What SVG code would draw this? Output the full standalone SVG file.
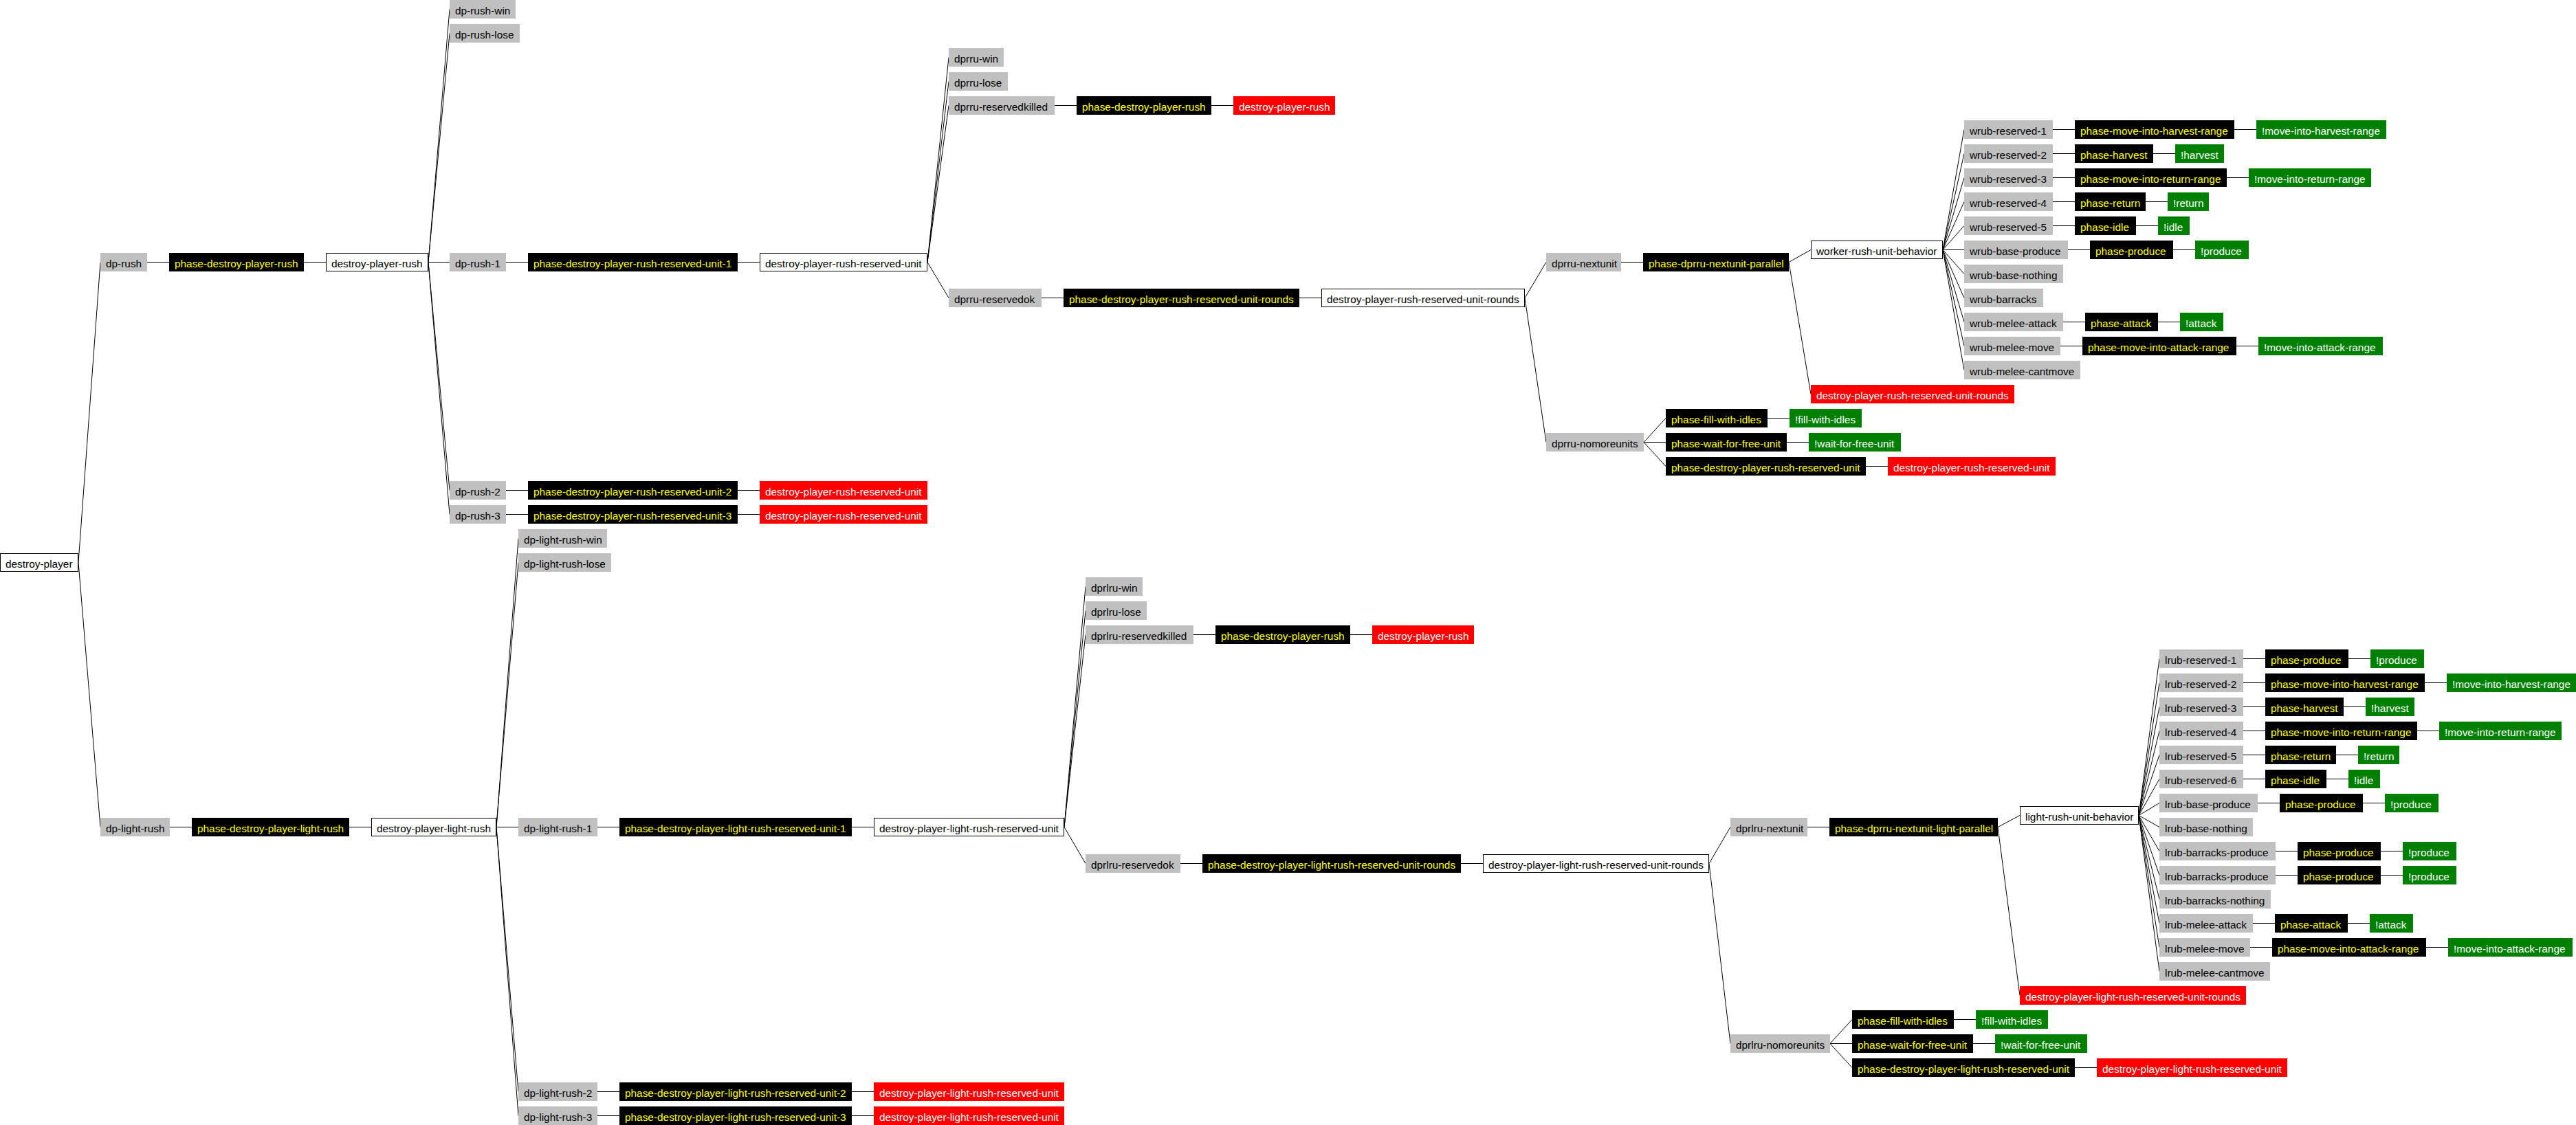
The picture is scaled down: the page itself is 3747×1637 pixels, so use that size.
<svg xmlns="http://www.w3.org/2000/svg" width="3747" height="1637" viewBox="0 0 3747 1637">
<style>
text{font-family:"Liberation Sans",Arial,Helvetica,sans-serif;font-size:15.4px}
.g rect{fill:#c0c0c0}.g text{fill:#000}
.k rect{fill:#000}.k text{fill:#ff0}
.r rect{fill:#f00}.r text{fill:#fff}
.n rect{fill:#008000}.n text{fill:#fff}
.w rect{fill:#fff;stroke:#000;stroke-width:1}.w text{fill:#000}
#edges line{stroke:#000;stroke-width:1;fill:none}
</style>
<rect width="3747" height="1637" fill="#fff"/>
<g id="edges">
<line x1="114" y1="818.5" x2="146" y2="381.5"/>
<line x1="114" y1="818.5" x2="146" y2="1203.5"/>
<line x1="214" y1="381.5" x2="246" y2="381.5"/>
<line x1="442" y1="381.5" x2="474" y2="381.5"/>
<line x1="623" y1="381.5" x2="654" y2="13.5"/>
<line x1="623" y1="381.5" x2="654" y2="48.5"/>
<line x1="623" y1="381.5" x2="654" y2="381.5"/>
<line x1="623" y1="381.5" x2="654" y2="713.5"/>
<line x1="623" y1="381.5" x2="654" y2="748.5"/>
<line x1="736" y1="381.5" x2="768" y2="381.5"/>
<line x1="1073" y1="381.5" x2="1105" y2="381.5"/>
<line x1="736" y1="713.5" x2="768" y2="713.5"/>
<line x1="1073" y1="713.5" x2="1105" y2="713.5"/>
<line x1="736" y1="748.5" x2="768" y2="748.5"/>
<line x1="1073" y1="748.5" x2="1105" y2="748.5"/>
<line x1="1349" y1="381.5" x2="1380" y2="83.5"/>
<line x1="1349" y1="381.5" x2="1380" y2="118.5"/>
<line x1="1349" y1="381.5" x2="1380" y2="153.5"/>
<line x1="1349" y1="381.5" x2="1380" y2="433.5"/>
<line x1="1534" y1="153.5" x2="1566" y2="153.5"/>
<line x1="1762" y1="153.5" x2="1794" y2="153.5"/>
<line x1="1515" y1="433.5" x2="1547" y2="433.5"/>
<line x1="1890" y1="433.5" x2="1922" y2="433.5"/>
<line x1="2218" y1="433.5" x2="2249" y2="381.5"/>
<line x1="2218" y1="433.5" x2="2249" y2="643.5"/>
<line x1="2358" y1="381.5" x2="2390" y2="381.5"/>
<line x1="2602" y1="381.5" x2="2634" y2="363.5"/>
<line x1="2602" y1="381.5" x2="2634" y2="573.5"/>
<line x1="2391" y1="643.5" x2="2423" y2="608.5"/>
<line x1="2391" y1="643.5" x2="2423" y2="643.5"/>
<line x1="2391" y1="643.5" x2="2423" y2="678.5"/>
<line x1="2571" y1="608.5" x2="2603" y2="608.5"/>
<line x1="2599" y1="643.5" x2="2631" y2="643.5"/>
<line x1="2714" y1="678.5" x2="2746" y2="678.5"/>
<line x1="2826" y1="363.5" x2="2857" y2="188.5"/>
<line x1="2826" y1="363.5" x2="2857" y2="223.5"/>
<line x1="2826" y1="363.5" x2="2857" y2="258.5"/>
<line x1="2826" y1="363.5" x2="2857" y2="293.5"/>
<line x1="2826" y1="363.5" x2="2857" y2="328.5"/>
<line x1="2826" y1="363.5" x2="2857" y2="363.5"/>
<line x1="2826" y1="363.5" x2="2857" y2="398.5"/>
<line x1="2826" y1="363.5" x2="2857" y2="433.5"/>
<line x1="2826" y1="363.5" x2="2857" y2="468.5"/>
<line x1="2826" y1="363.5" x2="2857" y2="503.5"/>
<line x1="2826" y1="363.5" x2="2857" y2="538.5"/>
<line x1="2986" y1="188.5" x2="3018" y2="188.5"/>
<line x1="3250" y1="188.5" x2="3282" y2="188.5"/>
<line x1="2986" y1="223.5" x2="3018" y2="223.5"/>
<line x1="3132" y1="223.5" x2="3164" y2="223.5"/>
<line x1="2986" y1="258.5" x2="3018" y2="258.5"/>
<line x1="3239" y1="258.5" x2="3271" y2="258.5"/>
<line x1="2986" y1="293.5" x2="3018" y2="293.5"/>
<line x1="3121" y1="293.5" x2="3153" y2="293.5"/>
<line x1="2986" y1="328.5" x2="3018" y2="328.5"/>
<line x1="3107" y1="328.5" x2="3139" y2="328.5"/>
<line x1="3008" y1="363.5" x2="3040" y2="363.5"/>
<line x1="3161" y1="363.5" x2="3193" y2="363.5"/>
<line x1="3001" y1="468.5" x2="3033" y2="468.5"/>
<line x1="3139" y1="468.5" x2="3171" y2="468.5"/>
<line x1="2997" y1="503.5" x2="3029" y2="503.5"/>
<line x1="3253" y1="503.5" x2="3285" y2="503.5"/>
<line x1="247" y1="1203.5" x2="279" y2="1203.5"/>
<line x1="508" y1="1203.5" x2="540" y2="1203.5"/>
<line x1="722" y1="1203.5" x2="754" y2="783.5"/>
<line x1="722" y1="1203.5" x2="754" y2="818.5"/>
<line x1="722" y1="1203.5" x2="754" y2="1203.5"/>
<line x1="722" y1="1203.5" x2="754" y2="1588.5"/>
<line x1="722" y1="1203.5" x2="754" y2="1623.5"/>
<line x1="869" y1="1203.5" x2="901" y2="1203.5"/>
<line x1="1239" y1="1203.5" x2="1271" y2="1203.5"/>
<line x1="869" y1="1588.5" x2="901" y2="1588.5"/>
<line x1="1239" y1="1588.5" x2="1271" y2="1588.5"/>
<line x1="869" y1="1623.5" x2="901" y2="1623.5"/>
<line x1="1239" y1="1623.5" x2="1271" y2="1623.5"/>
<line x1="1548" y1="1203.5" x2="1579" y2="853.5"/>
<line x1="1548" y1="1203.5" x2="1579" y2="888.5"/>
<line x1="1548" y1="1203.5" x2="1579" y2="923.5"/>
<line x1="1548" y1="1203.5" x2="1579" y2="1256.5"/>
<line x1="1736" y1="923.5" x2="1768" y2="923.5"/>
<line x1="1964" y1="923.5" x2="1996" y2="923.5"/>
<line x1="1717" y1="1256.5" x2="1749" y2="1256.5"/>
<line x1="2125" y1="1256.5" x2="2157" y2="1256.5"/>
<line x1="2486" y1="1256.5" x2="2517" y2="1203.5"/>
<line x1="2486" y1="1256.5" x2="2517" y2="1518.5"/>
<line x1="2629" y1="1203.5" x2="2661" y2="1203.5"/>
<line x1="2906" y1="1203.5" x2="2938" y2="1186.5"/>
<line x1="2906" y1="1203.5" x2="2938" y2="1448.5"/>
<line x1="2662" y1="1518.5" x2="2694" y2="1483.5"/>
<line x1="2662" y1="1518.5" x2="2694" y2="1518.5"/>
<line x1="2662" y1="1518.5" x2="2694" y2="1553.5"/>
<line x1="2842" y1="1483.5" x2="2874" y2="1483.5"/>
<line x1="2870" y1="1518.5" x2="2902" y2="1518.5"/>
<line x1="3018" y1="1553.5" x2="3050" y2="1553.5"/>
<line x1="3111" y1="1186.5" x2="3141" y2="958.5"/>
<line x1="3111" y1="1186.5" x2="3141" y2="993.5"/>
<line x1="3111" y1="1186.5" x2="3141" y2="1028.5"/>
<line x1="3111" y1="1186.5" x2="3141" y2="1063.5"/>
<line x1="3111" y1="1186.5" x2="3141" y2="1098.5"/>
<line x1="3111" y1="1186.5" x2="3141" y2="1133.5"/>
<line x1="3111" y1="1186.5" x2="3141" y2="1168.5"/>
<line x1="3111" y1="1186.5" x2="3141" y2="1203.5"/>
<line x1="3111" y1="1186.5" x2="3141" y2="1238.5"/>
<line x1="3111" y1="1186.5" x2="3141" y2="1273.5"/>
<line x1="3111" y1="1186.5" x2="3141" y2="1308.5"/>
<line x1="3111" y1="1186.5" x2="3141" y2="1343.5"/>
<line x1="3111" y1="1186.5" x2="3141" y2="1378.5"/>
<line x1="3111" y1="1186.5" x2="3141" y2="1413.5"/>
<line x1="3263" y1="958.5" x2="3295" y2="958.5"/>
<line x1="3416" y1="958.5" x2="3448" y2="958.5"/>
<line x1="3263" y1="993.5" x2="3295" y2="993.5"/>
<line x1="3527" y1="993.5" x2="3559" y2="993.5"/>
<line x1="3263" y1="1028.5" x2="3295" y2="1028.5"/>
<line x1="3409" y1="1028.5" x2="3441" y2="1028.5"/>
<line x1="3263" y1="1063.5" x2="3295" y2="1063.5"/>
<line x1="3516" y1="1063.5" x2="3548" y2="1063.5"/>
<line x1="3263" y1="1098.5" x2="3295" y2="1098.5"/>
<line x1="3398" y1="1098.5" x2="3430" y2="1098.5"/>
<line x1="3263" y1="1133.5" x2="3295" y2="1133.5"/>
<line x1="3384" y1="1133.5" x2="3416" y2="1133.5"/>
<line x1="3284" y1="1168.5" x2="3316" y2="1168.5"/>
<line x1="3437" y1="1168.5" x2="3469" y2="1168.5"/>
<line x1="3310" y1="1238.5" x2="3342" y2="1238.5"/>
<line x1="3463" y1="1238.5" x2="3495" y2="1238.5"/>
<line x1="3310" y1="1273.5" x2="3342" y2="1273.5"/>
<line x1="3463" y1="1273.5" x2="3495" y2="1273.5"/>
<line x1="3277" y1="1343.5" x2="3309" y2="1343.5"/>
<line x1="3415" y1="1343.5" x2="3447" y2="1343.5"/>
<line x1="3273" y1="1378.5" x2="3305" y2="1378.5"/>
<line x1="3529" y1="1378.5" x2="3561" y2="1378.5"/>
</g>
<g id="nodes">
<g id="destroy-player" class="w"><rect x="0.5" y="805.5" width="113" height="26"/><text x="8" y="825.5">destroy-player</text></g>
<g id="dp-rush" class="g"><rect x="146" y="368" width="68" height="27"/><text x="154" y="388.5">dp-rush</text></g>
<g id="phase-dp-rush" class="k"><rect x="246" y="368" width="196" height="27"/><text x="254" y="388.5">phase-destroy-player-rush</text></g>
<g id="destroy-player-rush" class="w"><rect x="474.5" y="368.5" width="148" height="26"/><text x="482" y="388.5">destroy-player-rush</text></g>
<g id="dp-rush-win" class="g"><rect x="654" y="0" width="96" height="27"/><text x="662" y="20.5">dp-rush-win</text></g>
<g id="dp-rush-lose" class="g"><rect x="654" y="35" width="102" height="27"/><text x="662" y="55.5">dp-rush-lose</text></g>
<g id="dp-rush-1" class="g"><rect x="654" y="368" width="82" height="27"/><text x="662" y="388.5">dp-rush-1</text></g>
<g id="dp-rush-2" class="g"><rect x="654" y="700" width="82" height="27"/><text x="662" y="720.5">dp-rush-2</text></g>
<g id="dp-rush-3" class="g"><rect x="654" y="735" width="82" height="27"/><text x="662" y="755.5">dp-rush-3</text></g>
<g id="phase-dprru-1" class="k"><rect x="768" y="368" width="305" height="27"/><text x="776" y="388.5">phase-destroy-player-rush-reserved-unit-1</text></g>
<g id="dprru" class="w"><rect x="1105.5" y="368.5" width="243" height="26"/><text x="1113" y="388.5">destroy-player-rush-reserved-unit</text></g>
<g id="phase-dprru-2" class="k"><rect x="768" y="700" width="305" height="27"/><text x="776" y="720.5">phase-destroy-player-rush-reserved-unit-2</text></g>
<g id="dprru-end-2" class="r"><rect x="1105" y="700" width="244" height="27"/><text x="1113" y="720.5">destroy-player-rush-reserved-unit</text></g>
<g id="phase-dprru-3" class="k"><rect x="768" y="735" width="305" height="27"/><text x="776" y="755.5">phase-destroy-player-rush-reserved-unit-3</text></g>
<g id="dprru-end-3" class="r"><rect x="1105" y="735" width="244" height="27"/><text x="1113" y="755.5">destroy-player-rush-reserved-unit</text></g>
<g id="dpru-win" class="g"><rect x="1380" y="70" width="80" height="27"/><text x="1388" y="90.5">dprru-win</text></g>
<g id="dpru-lose" class="g"><rect x="1380" y="105" width="86" height="27"/><text x="1388" y="125.5">dprru-lose</text></g>
<g id="dpru-reservedkilled" class="g"><rect x="1380" y="140" width="154" height="27"/><text x="1388" y="160.5">dprru-reservedkilled</text></g>
<g id="dpru-reservedok" class="g"><rect x="1380" y="420" width="135" height="27"/><text x="1388" y="440.5">dprru-reservedok</text></g>
<g id="phase-dpr-killed" class="k"><rect x="1566" y="140" width="196" height="27"/><text x="1574" y="160.5">phase-destroy-player-rush</text></g>
<g id="dpr-killed-end" class="r"><rect x="1794" y="140" width="148" height="27"/><text x="1802" y="160.5">destroy-player-rush</text></g>
<g id="phase-dprru-rounds" class="k"><rect x="1547" y="420" width="343" height="27"/><text x="1555" y="440.5">phase-destroy-player-rush-reserved-unit-rounds</text></g>
<g id="dprru-rounds" class="w"><rect x="1922.5" y="420.5" width="295" height="26"/><text x="1930" y="440.5">destroy-player-rush-reserved-unit-rounds</text></g>
<g id="dpru-nextunit" class="g"><rect x="2249" y="368" width="109" height="27"/><text x="2257" y="388.5">dprru-nextunit</text></g>
<g id="dpru-nomoreunits" class="g"><rect x="2249" y="630" width="142" height="27"/><text x="2257" y="650.5">dprru-nomoreunits</text></g>
<g id="phase-dpru-parallel" class="k"><rect x="2390" y="368" width="212" height="27"/><text x="2398" y="388.5">phase-dprru-nextunit-parallel</text></g>
<g id="worker-rush-unit-behavior" class="w"><rect x="2634.5" y="350.5" width="191" height="26"/><text x="2642" y="370.5">worker-rush-unit-behavior</text></g>
<g id="dprru-rounds-end" class="r"><rect x="2634" y="560" width="296" height="27"/><text x="2642" y="580.5">destroy-player-rush-reserved-unit-rounds</text></g>
<g id="phase-fill-1" class="k"><rect x="2423" y="595" width="148" height="27"/><text x="2431" y="615.5">phase-fill-with-idles</text></g>
<g id="phase-wait-1" class="k"><rect x="2423" y="630" width="176" height="27"/><text x="2431" y="650.5">phase-wait-for-free-unit</text></g>
<g id="phase-dprru-final" class="k"><rect x="2423" y="665" width="291" height="27"/><text x="2431" y="685.5">phase-destroy-player-rush-reserved-unit</text></g>
<g id="fill-1" class="n"><rect x="2603" y="595" width="105" height="27"/><text x="2611" y="615.5">!fill-with-idles</text></g>
<g id="wait-1" class="n"><rect x="2631" y="630" width="134" height="27"/><text x="2639" y="650.5">!wait-for-free-unit</text></g>
<g id="dprru-final-end" class="r"><rect x="2746" y="665" width="244" height="27"/><text x="2754" y="685.5">destroy-player-rush-reserved-unit</text></g>
<g id="wrub-reserved-1" class="g"><rect x="2857" y="175" width="129" height="27"/><text x="2865" y="195.5">wrub-reserved-1</text></g>
<g id="wrub-reserved-2" class="g"><rect x="2857" y="210" width="129" height="27"/><text x="2865" y="230.5">wrub-reserved-2</text></g>
<g id="wrub-reserved-3" class="g"><rect x="2857" y="245" width="129" height="27"/><text x="2865" y="265.5">wrub-reserved-3</text></g>
<g id="wrub-reserved-4" class="g"><rect x="2857" y="280" width="129" height="27"/><text x="2865" y="300.5">wrub-reserved-4</text></g>
<g id="wrub-reserved-5" class="g"><rect x="2857" y="315" width="129" height="27"/><text x="2865" y="335.5">wrub-reserved-5</text></g>
<g id="wrub-base-produce" class="g"><rect x="2857" y="350" width="151" height="27"/><text x="2865" y="370.5">wrub-base-produce</text></g>
<g id="wrub-base-nothing" class="g"><rect x="2857" y="385" width="144" height="27"/><text x="2865" y="405.5">wrub-base-nothing</text></g>
<g id="wrub-barracks" class="g"><rect x="2857" y="420" width="115" height="27"/><text x="2865" y="440.5">wrub-barracks</text></g>
<g id="wrub-melee-attack" class="g"><rect x="2857" y="455" width="144" height="27"/><text x="2865" y="475.5">wrub-melee-attack</text></g>
<g id="wrub-melee-move" class="g"><rect x="2857" y="490" width="140" height="27"/><text x="2865" y="510.5">wrub-melee-move</text></g>
<g id="wrub-melee-cantmove" class="g"><rect x="2857" y="525" width="169" height="27"/><text x="2865" y="545.5">wrub-melee-cantmove</text></g>
<g id="w-phase-mihr" class="k"><rect x="3018" y="175" width="232" height="27"/><text x="3026" y="195.5">phase-move-into-harvest-range</text></g>
<g id="w-mihr" class="n"><rect x="3282" y="175" width="189" height="27"/><text x="3290" y="195.5">!move-into-harvest-range</text></g>
<g id="w-phase-harvest" class="k"><rect x="3018" y="210" width="114" height="27"/><text x="3026" y="230.5">phase-harvest</text></g>
<g id="w-harvest" class="n"><rect x="3164" y="210" width="71" height="27"/><text x="3172" y="230.5">!harvest</text></g>
<g id="w-phase-mirr" class="k"><rect x="3018" y="245" width="221" height="27"/><text x="3026" y="265.5">phase-move-into-return-range</text></g>
<g id="w-mirr" class="n"><rect x="3271" y="245" width="178" height="27"/><text x="3279" y="265.5">!move-into-return-range</text></g>
<g id="w-phase-return" class="k"><rect x="3018" y="280" width="103" height="27"/><text x="3026" y="300.5">phase-return</text></g>
<g id="w-return" class="n"><rect x="3153" y="280" width="60" height="27"/><text x="3161" y="300.5">!return</text></g>
<g id="w-phase-idle" class="k"><rect x="3018" y="315" width="89" height="27"/><text x="3026" y="335.5">phase-idle</text></g>
<g id="w-idle" class="n"><rect x="3139" y="315" width="46" height="27"/><text x="3147" y="335.5">!idle</text></g>
<g id="w-phase-produce" class="k"><rect x="3040" y="350" width="121" height="27"/><text x="3048" y="370.5">phase-produce</text></g>
<g id="w-produce" class="n"><rect x="3193" y="350" width="78" height="27"/><text x="3201" y="370.5">!produce</text></g>
<g id="w-phase-attack" class="k"><rect x="3033" y="455" width="106" height="27"/><text x="3041" y="475.5">phase-attack</text></g>
<g id="w-attack" class="n"><rect x="3171" y="455" width="63" height="27"/><text x="3179" y="475.5">!attack</text></g>
<g id="w-phase-miar" class="k"><rect x="3029" y="490" width="224" height="27"/><text x="3037" y="510.5">phase-move-into-attack-range</text></g>
<g id="w-miar" class="n"><rect x="3285" y="490" width="181" height="27"/><text x="3293" y="510.5">!move-into-attack-range</text></g>
<g id="dp-light-rush" class="g"><rect x="146" y="1190" width="101" height="27"/><text x="154" y="1210.5">dp-light-rush</text></g>
<g id="phase-dp-light-rush" class="k"><rect x="279" y="1190" width="229" height="27"/><text x="287" y="1210.5">phase-destroy-player-light-rush</text></g>
<g id="destroy-player-light-rush" class="w"><rect x="540.5" y="1190.5" width="181" height="26"/><text x="548" y="1210.5">destroy-player-light-rush</text></g>
<g id="dp-light-rush-win" class="g"><rect x="754" y="770" width="129" height="27"/><text x="762" y="790.5">dp-light-rush-win</text></g>
<g id="dp-light-rush-lose" class="g"><rect x="754" y="805" width="135" height="27"/><text x="762" y="825.5">dp-light-rush-lose</text></g>
<g id="dp-light-rush-1" class="g"><rect x="754" y="1190" width="115" height="27"/><text x="762" y="1210.5">dp-light-rush-1</text></g>
<g id="dp-light-rush-2" class="g"><rect x="754" y="1575" width="115" height="27"/><text x="762" y="1595.5">dp-light-rush-2</text></g>
<g id="dp-light-rush-3" class="g"><rect x="754" y="1610" width="115" height="27"/><text x="762" y="1630.5">dp-light-rush-3</text></g>
<g id="phase-dplrru-1" class="k"><rect x="901" y="1190" width="338" height="27"/><text x="909" y="1210.5">phase-destroy-player-light-rush-reserved-unit-1</text></g>
<g id="dplrru" class="w"><rect x="1271.5" y="1190.5" width="276" height="26"/><text x="1279" y="1210.5">destroy-player-light-rush-reserved-unit</text></g>
<g id="phase-dplrru-2" class="k"><rect x="901" y="1575" width="338" height="27"/><text x="909" y="1595.5">phase-destroy-player-light-rush-reserved-unit-2</text></g>
<g id="dplrru-end-2" class="r"><rect x="1271" y="1575" width="277" height="27"/><text x="1279" y="1595.5">destroy-player-light-rush-reserved-unit</text></g>
<g id="phase-dplrru-3" class="k"><rect x="901" y="1610" width="338" height="27"/><text x="909" y="1630.5">phase-destroy-player-light-rush-reserved-unit-3</text></g>
<g id="dplrru-end-3" class="r"><rect x="1271" y="1610" width="277" height="27"/><text x="1279" y="1630.5">destroy-player-light-rush-reserved-unit</text></g>
<g id="dprlru-win" class="g"><rect x="1579" y="840" width="83" height="27"/><text x="1587" y="860.5">dprlru-win</text></g>
<g id="dprlru-lose" class="g"><rect x="1579" y="875" width="89" height="27"/><text x="1587" y="895.5">dprlru-lose</text></g>
<g id="dprlru-reservedkilled" class="g"><rect x="1579" y="910" width="157" height="27"/><text x="1587" y="930.5">dprlru-reservedkilled</text></g>
<g id="dprlru-reservedok" class="g"><rect x="1579" y="1243" width="138" height="27"/><text x="1587" y="1263.5">dprlru-reservedok</text></g>
<g id="phase-dpr-killed-2" class="k"><rect x="1768" y="910" width="196" height="27"/><text x="1776" y="930.5">phase-destroy-player-rush</text></g>
<g id="dpr-killed-end-2" class="r"><rect x="1996" y="910" width="148" height="27"/><text x="2004" y="930.5">destroy-player-rush</text></g>
<g id="phase-dplrru-rounds" class="k"><rect x="1749" y="1243" width="376" height="27"/><text x="1757" y="1263.5">phase-destroy-player-light-rush-reserved-unit-rounds</text></g>
<g id="dplrru-rounds" class="w"><rect x="2157.5" y="1243.5" width="328" height="26"/><text x="2165" y="1263.5">destroy-player-light-rush-reserved-unit-rounds</text></g>
<g id="dprlru-nextunit" class="g"><rect x="2517" y="1190" width="112" height="27"/><text x="2525" y="1210.5">dprlru-nextunit</text></g>
<g id="dprlru-nomoreunits" class="g"><rect x="2517" y="1505" width="145" height="27"/><text x="2525" y="1525.5">dprlru-nomoreunits</text></g>
<g id="phase-dprru-light-parallel" class="k"><rect x="2661" y="1190" width="245" height="27"/><text x="2669" y="1210.5">phase-dprru-nextunit-light-parallel</text></g>
<g id="light-rush-unit-behavior" class="w"><rect x="2938.5" y="1173.5" width="172" height="26"/><text x="2946" y="1193.5">light-rush-unit-behavior</text></g>
<g id="dplrru-rounds-end" class="r"><rect x="2938" y="1435" width="329" height="27"/><text x="2946" y="1455.5">destroy-player-light-rush-reserved-unit-rounds</text></g>
<g id="phase-fill-2" class="k"><rect x="2694" y="1470" width="148" height="27"/><text x="2702" y="1490.5">phase-fill-with-idles</text></g>
<g id="phase-wait-2" class="k"><rect x="2694" y="1505" width="176" height="27"/><text x="2702" y="1525.5">phase-wait-for-free-unit</text></g>
<g id="phase-dplrru-final" class="k"><rect x="2694" y="1540" width="324" height="27"/><text x="2702" y="1560.5">phase-destroy-player-light-rush-reserved-unit</text></g>
<g id="fill-2" class="n"><rect x="2874" y="1470" width="105" height="27"/><text x="2882" y="1490.5">!fill-with-idles</text></g>
<g id="wait-2" class="n"><rect x="2902" y="1505" width="134" height="27"/><text x="2910" y="1525.5">!wait-for-free-unit</text></g>
<g id="dplrru-final-end" class="r"><rect x="3050" y="1540" width="277" height="27"/><text x="3058" y="1560.5">destroy-player-light-rush-reserved-unit</text></g>
<g id="lrub-reserved-1" class="g"><rect x="3141" y="945" width="122" height="27"/><text x="3149" y="965.5">lrub-reserved-1</text></g>
<g id="lrub-reserved-2" class="g"><rect x="3141" y="980" width="122" height="27"/><text x="3149" y="1000.5">lrub-reserved-2</text></g>
<g id="lrub-reserved-3" class="g"><rect x="3141" y="1015" width="122" height="27"/><text x="3149" y="1035.5">lrub-reserved-3</text></g>
<g id="lrub-reserved-4" class="g"><rect x="3141" y="1050" width="122" height="27"/><text x="3149" y="1070.5">lrub-reserved-4</text></g>
<g id="lrub-reserved-5" class="g"><rect x="3141" y="1085" width="122" height="27"/><text x="3149" y="1105.5">lrub-reserved-5</text></g>
<g id="lrub-reserved-6" class="g"><rect x="3141" y="1120" width="122" height="27"/><text x="3149" y="1140.5">lrub-reserved-6</text></g>
<g id="lrub-base-produce" class="g"><rect x="3141" y="1155" width="143" height="27"/><text x="3149" y="1175.5">lrub-base-produce</text></g>
<g id="lrub-base-nothing" class="g"><rect x="3141" y="1190" width="136" height="27"/><text x="3149" y="1210.5">lrub-base-nothing</text></g>
<g id="lrub-barracks-produce-1" class="g"><rect x="3141" y="1225" width="169" height="27"/><text x="3149" y="1245.5">lrub-barracks-produce</text></g>
<g id="lrub-barracks-produce-2" class="g"><rect x="3141" y="1260" width="169" height="27"/><text x="3149" y="1280.5">lrub-barracks-produce</text></g>
<g id="lrub-barracks-nothing" class="g"><rect x="3141" y="1295" width="162" height="27"/><text x="3149" y="1315.5">lrub-barracks-nothing</text></g>
<g id="lrub-melee-attack" class="g"><rect x="3141" y="1330" width="136" height="27"/><text x="3149" y="1350.5">lrub-melee-attack</text></g>
<g id="lrub-melee-move" class="g"><rect x="3141" y="1365" width="132" height="27"/><text x="3149" y="1385.5">lrub-melee-move</text></g>
<g id="lrub-melee-cantmove" class="g"><rect x="3141" y="1400" width="161" height="27"/><text x="3149" y="1420.5">lrub-melee-cantmove</text></g>
<g id="l-phase-produce-1" class="k"><rect x="3295" y="945" width="121" height="27"/><text x="3303" y="965.5">phase-produce</text></g>
<g id="l-produce-1" class="n"><rect x="3448" y="945" width="78" height="27"/><text x="3456" y="965.5">!produce</text></g>
<g id="l-phase-mihr" class="k"><rect x="3295" y="980" width="232" height="27"/><text x="3303" y="1000.5">phase-move-into-harvest-range</text></g>
<g id="l-mihr" class="n"><rect x="3559" y="980" width="189" height="27"/><text x="3567" y="1000.5">!move-into-harvest-range</text></g>
<g id="l-phase-harvest" class="k"><rect x="3295" y="1015" width="114" height="27"/><text x="3303" y="1035.5">phase-harvest</text></g>
<g id="l-harvest" class="n"><rect x="3441" y="1015" width="71" height="27"/><text x="3449" y="1035.5">!harvest</text></g>
<g id="l-phase-mirr" class="k"><rect x="3295" y="1050" width="221" height="27"/><text x="3303" y="1070.5">phase-move-into-return-range</text></g>
<g id="l-mirr" class="n"><rect x="3548" y="1050" width="178" height="27"/><text x="3556" y="1070.5">!move-into-return-range</text></g>
<g id="l-phase-return" class="k"><rect x="3295" y="1085" width="103" height="27"/><text x="3303" y="1105.5">phase-return</text></g>
<g id="l-return" class="n"><rect x="3430" y="1085" width="60" height="27"/><text x="3438" y="1105.5">!return</text></g>
<g id="l-phase-idle" class="k"><rect x="3295" y="1120" width="89" height="27"/><text x="3303" y="1140.5">phase-idle</text></g>
<g id="l-idle" class="n"><rect x="3416" y="1120" width="46" height="27"/><text x="3424" y="1140.5">!idle</text></g>
<g id="l-phase-produce-2" class="k"><rect x="3316" y="1155" width="121" height="27"/><text x="3324" y="1175.5">phase-produce</text></g>
<g id="l-produce-2" class="n"><rect x="3469" y="1155" width="78" height="27"/><text x="3477" y="1175.5">!produce</text></g>
<g id="l-phase-produce-3" class="k"><rect x="3342" y="1225" width="121" height="27"/><text x="3350" y="1245.5">phase-produce</text></g>
<g id="l-produce-3" class="n"><rect x="3495" y="1225" width="78" height="27"/><text x="3503" y="1245.5">!produce</text></g>
<g id="l-phase-produce-4" class="k"><rect x="3342" y="1260" width="121" height="27"/><text x="3350" y="1280.5">phase-produce</text></g>
<g id="l-produce-4" class="n"><rect x="3495" y="1260" width="78" height="27"/><text x="3503" y="1280.5">!produce</text></g>
<g id="l-phase-attack" class="k"><rect x="3309" y="1330" width="106" height="27"/><text x="3317" y="1350.5">phase-attack</text></g>
<g id="l-attack" class="n"><rect x="3447" y="1330" width="63" height="27"/><text x="3455" y="1350.5">!attack</text></g>
<g id="l-phase-miar" class="k"><rect x="3305" y="1365" width="224" height="27"/><text x="3313" y="1385.5">phase-move-into-attack-range</text></g>
<g id="l-miar" class="n"><rect x="3561" y="1365" width="181" height="27"/><text x="3569" y="1385.5">!move-into-attack-range</text></g>
</g>
</svg>
